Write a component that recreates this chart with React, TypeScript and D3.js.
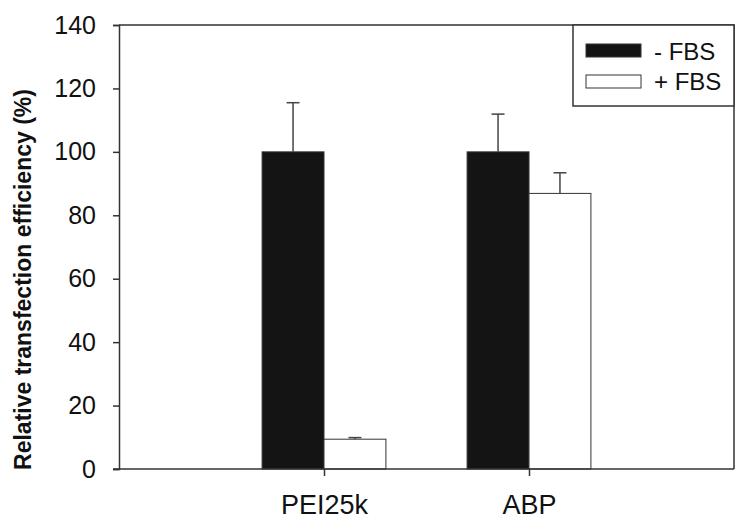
import React, { useEffect, useRef } from 'react';
import * as d3 from 'd3';

const categories = ['PEI25k', 'ABP'];
const seriesNames = ['- FBS', '+ FBS'];
const minusFBS = [100, 100];
const minusFBSErr = [15.5, 11.9];
const plusFBS = [9.4, 86.9];
const plusFBSErr = [0.5, 6.5];
const yTicks = [0, 20, 40, 60, 80, 100, 120, 140];

const App = () => {
  const ref = useRef<SVGSVGElement | null>(null);

  useEffect(() => {
    const svg = d3.select(ref.current);
    svg.selectAll('*').remove();

    const left = 119, right = 734, top = 25, bottom = 469;
    const font = 'Liberation Sans, Arial, sans-serif';
    const ink = '#333';

    // categories sit at 1, 2 on a 0..3 axis (one empty slot at each side)
    const x = d3.scaleLinear().domain([0, 3]).range([left, right]);
    const y = d3.scaleLinear().domain([0, 140]).range([bottom, top]);
    const step = x(1) - x(0);
    const bw = step * 0.302;

    const series = [
      { vals: minusFBS, errs: minusFBSErr, fill: '#141414', off: -1 },
      { vals: plusFBS, errs: plusFBSErr, fill: '#fff', off: 0 },
    ];

    series.forEach(s => {
      const g = svg.append('g');
      s.vals.forEach((v, i) => {
        const x0 = x(i + 1) + s.off * bw;
        g.append('rect')
          .attr('x', x0)
          .attr('y', y(v))
          .attr('width', bw)
          .attr('height', y(0) - y(v))
          .attr('fill', s.fill)
          .attr('stroke', ink)
          .attr('stroke-width', 1);
        const cx = x0 + bw / 2;
        const ey = y(v + s.errs[i]);
        g.append('line')
          .attr('x1', cx).attr('x2', cx)
          .attr('y1', y(v)).attr('y2', ey)
          .attr('stroke', '#444').attr('stroke-width', 1.5);
        g.append('line')
          .attr('x1', cx - 6.5).attr('x2', cx + 6.5)
          .attr('y1', ey).attr('y2', ey)
          .attr('stroke', '#444').attr('stroke-width', 1.5);
      });
    });

    // frame
    svg.append('path')
      .attr('d', `M${left},${top}H${right}V${bottom}`)
      .attr('fill', 'none')
      .attr('stroke', ink)
      .attr('stroke-width', 1.5);

    const yAxis = svg.append('g')
      .attr('transform', `translate(${left},0)`)
      .call(d3.axisLeft(y).tickValues(yTicks).tickSize(6).tickPadding(17));
    yAxis.select('.domain').attr('stroke', ink).attr('stroke-width', 1.5);
    yAxis.selectAll('.tick line').attr('stroke', ink).attr('stroke-width', 1.5);
    yAxis.selectAll('.tick text')
      .attr('font-family', font)
      .attr('font-size', 25)
      .attr('fill', '#111');

    const xAxis = svg.append('g')
      .attr('transform', `translate(0,${bottom})`)
      .call(d3.axisBottom(x).tickValues([1, 2]).tickFormat((d: any) => categories[d - 1]).tickSize(7).tickPadding(19).tickSizeOuter(0));
    xAxis.select('.domain')
      .attr('d', `M${left - 6},0H${right}`)
      .attr('stroke', ink).attr('stroke-width', 1.5);
    xAxis.selectAll('.tick line').attr('stroke', ink).attr('stroke-width', 1.5);
    xAxis.selectAll('.tick text')
      .attr('font-family', font)
      .attr('font-size', 27)
      .attr('fill', '#111');

    svg.append('text')
      .attr('transform', `translate(31,${(87 + 472) / 2}) rotate(-90)`)
      .attr('text-anchor', 'middle')
      .attr('font-family', font)
      .attr('font-size', 23)
      .attr('font-weight', 'bold')
      .attr('fill', '#111')
      .text('Relative transfection efficiency (%)');

    // legend
    const lg = svg.append('g');
    lg.append('rect')
      .attr('x', 573).attr('y', top)
      .attr('width', right - 573).attr('height', 106 - top)
      .attr('fill', '#fff').attr('stroke', ink).attr('stroke-width', 1.5);
    seriesNames.forEach((name, i) => {
      const ry = 44 + i * 31;
      lg.append('rect')
        .attr('x', 586).attr('y', ry)
        .attr('width', 55).attr('height', 13)
        .attr('fill', series[i].fill)
        .attr('stroke', ink).attr('stroke-width', 1);
      lg.append('text')
        .attr('x', 654).attr('y', 60 + i * 30)
        .attr('font-family', font)
        .attr('font-size', 24)
        .attr('fill', '#111')
        .text(name);
    });
  }, []);

  return (
    <div>
      <svg ref={ref} width={750} height={532} style={{ position: 'absolute', left: 0, top: 0, background: '#fff' }}></svg>
    </div>
  );
};

export default App;
